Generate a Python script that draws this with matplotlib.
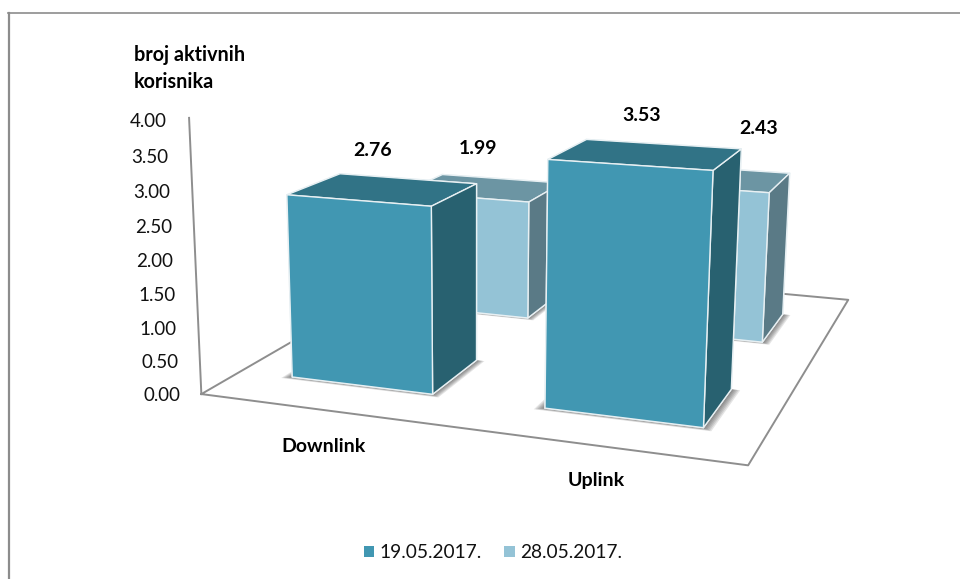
import matplotlib
matplotlib.use('Agg')
import matplotlib.pyplot as plt
from matplotlib.lines import Line2D
from matplotlib.patches import Patch
from mpl_toolkits.mplot3d import proj3d
from mpl_toolkits.mplot3d.art3d import Poly3DCollection

# ------------------------------------
# DATA
# ------------------------------------
categories = ['Downlink', 'Uplink']
series_names = ['19.05.2017.', '28.05.2017.']
values_first = [2.76, 3.53]
values_second = [1.99, 2.43]
z_ticks = [0.0, 0.5, 1.0, 1.5, 2.0, 2.5, 3.0, 3.5, 4.0]

# ------------------------------------
# STYLE
# ------------------------------------
plt.rcParams['font.family'] = ['Lato', 'DejaVu Sans']
FIG_W, FIG_H = 960, 579
LINE = '#8e8e8e'
# faces: bottom, top, front, back, left, right
DARK = ['#3f96b1', '#317386', '#4197b2', '#317386', '#286170', '#286170']
LIGHT = ['#93c3d6', '#6c95a3', '#94c3d6', '#6c95a3', '#5a7a86', '#5a7a86']
BAR_DX = 0.57
BAR_DY = 0.41
ROW_Y = [0.48, 1.48]
ROW_SHIFT = [0.0, -0.012]
FLOOR_X = 2.0
FLOOR_Y = 2.0

# label nudges in data units (x, z), the labels are not centred on their bars
FIRST_NUDGE = [(-0.043, 0.57), (-0.02, 0.53)]
SECOND_NUDGE = [(-0.04, 0.68), (0.175, 0.86)]
CAT_NUDGE = [(0.072, -0.27), (0.045, -0.22)]

fig = plt.figure(figsize=(FIG_W / 100, FIG_H / 100), dpi=100, facecolor='white')

# outer chart frame: only the left and top sides fall inside the picture
fig.add_artist(Line2D([8.5 / FIG_W, 8.5 / FIG_W], [0, 1 - 12.5 / FIG_H],
                      transform=fig.transFigure, color='#8c8c8c', linewidth=1.6))
fig.add_artist(Line2D([8 / FIG_W, 1], [1 - 12.5 / FIG_H, 1 - 12.5 / FIG_H],
                      transform=fig.transFigure, color='#8c8c8c', linewidth=1.2))

# camera worked out from the vanishing points of the reference
side = 960
ax = fig.add_axes([-18 / FIG_W, -191 / FIG_H, side / FIG_W, side / FIG_H],
                  projection='3d', computed_zorder=False)
ax.set_xlim(-0.382, 1.835)
ax.set_ylim(-0.380, 2.0)
ax.set_zlim(-2.855, 5.197)
ax.set_box_aspect((1.2, 1.4, 1.1), zoom=1.0217)
ax.view_init(elev=14.3, azim=-69)
ax.set_proj_type('persp', focal_length=0.3083)
ax.set_xticks([])
ax.set_yticks([])
ax.set_zticks([])
ax.set_axis_off()
ax.patch.set_alpha(0)
for axis in (ax.xaxis, ax.yaxis, ax.zaxis):
    axis.label.set_visible(False)
    axis.offsetText.set_visible(False)


def label(x, y, z, s, **kwargs):
    """Text at a 3D data position, placed as plain 2D text."""
    px, py, _ = proj3d.proj_transform(x, y, z, ax.get_proj())
    ax.annotate(s, (px, py), zorder=20, **kwargs)


def shadow(x0, y0, zorder):
    """Soft shadow on the floor under a bar, a few stacked polygons."""
    for k in range(1, 7):
        grow = 0.005 * (7 - k)
        x1 = x0 - grow * 1.1
        x2 = x0 + BAR_DX + grow * 1.1
        y1 = y0 - grow * 0.8
        y2 = y0 + BAR_DY
        poly = Poly3DCollection([[(x1, y1, 0), (x2, y1, 0), (x2, y2, 0), (x1, y2, 0)]],
                                facecolor='#303030', edgecolor='none', alpha=0.13,
                                zorder=zorder)
        ax.add_collection3d(poly)


def draw_bar(cat_idx, row_idx, value, colors, zorder):
    x0 = cat_idx + 0.5 - BAR_DX / 2 + ROW_SHIFT[row_idx]
    y0 = ROW_Y[row_idx] - BAR_DY / 2
    shadow(x0, y0, zorder)
    ax.bar3d(x0, y0, 0, BAR_DX, BAR_DY, value, color=colors, shade=False,
             edgecolor='#e8f0f3', linewidth=1.0, zorder=zorder + 1)


# floor and value axis
ax.plot([0, FLOOR_X, FLOOR_X, 0, 0], [0, 0, FLOOR_Y, FLOOR_Y, 0], [0, 0, 0, 0, 0],
        color=LINE, linewidth=1.4, zorder=1)
ax.plot([0, 0], [0, 0], [0, z_ticks[-1]], color=LINE, linewidth=1.4, zorder=1)

# back row first, then the front row
for i, v in enumerate(values_second):
    draw_bar(i, 1, v, LIGHT, 2 + i * 2)
for i, v in enumerate(values_first):
    draw_bar(i, 0, v, DARK, 6 + i * 2)

# value axis labels
for t in z_ticks:
    label(-0.09, 0, t - 0.07, f'{t:.2f}', ha='right', va='center', fontsize=13.5,
          color='#111111')

# data labels
for i, v in enumerate(values_first):
    label(i + 0.5 + FIRST_NUDGE[i][0], ROW_Y[0], v + FIRST_NUDGE[i][1], f'{v:.2f}',
          ha='center', va='center', fontsize=14, fontweight='bold', color='black')
for i, v in enumerate(values_second):
    label(i + 0.5 + SECOND_NUDGE[i][0], ROW_Y[1], v + SECOND_NUDGE[i][1], f'{v:.2f}',
          ha='center', va='center', fontsize=14, fontweight='bold', color='black')

# category labels
for i, c in enumerate(categories):
    label(i + 0.5 + CAT_NUDGE[i][0], -0.15, CAT_NUDGE[i][1], c, ha='center', va='center',
          fontsize=14, fontweight='bold', color='black')

# axis title
fig.text(134 / FIG_W, 1 - 55 / FIG_H, 'broj aktivnih', ha='left', va='center',
         fontsize=14.2, fontweight='bold', color='black')
fig.text(134 / FIG_W, 1 - 82 / FIG_H, 'korisnika', ha='left', va='center',
         fontsize=14.2, fontweight='bold', color='black')

# legend
handles = [Patch(facecolor=DARK[2], label=series_names[0]),
           Patch(facecolor=LIGHT[2], label=series_names[1])]
fig.legend(handles=handles, loc='center', bbox_to_anchor=(493 / FIG_W, 1 - 553 / FIG_H),
           ncol=2, frameon=False, fontsize=13.8, handlelength=0.55, handleheight=0.55,
           handletextpad=0.3, columnspacing=1.15, labelcolor='#111111')

plt.savefig('out.png', dpi=100)
